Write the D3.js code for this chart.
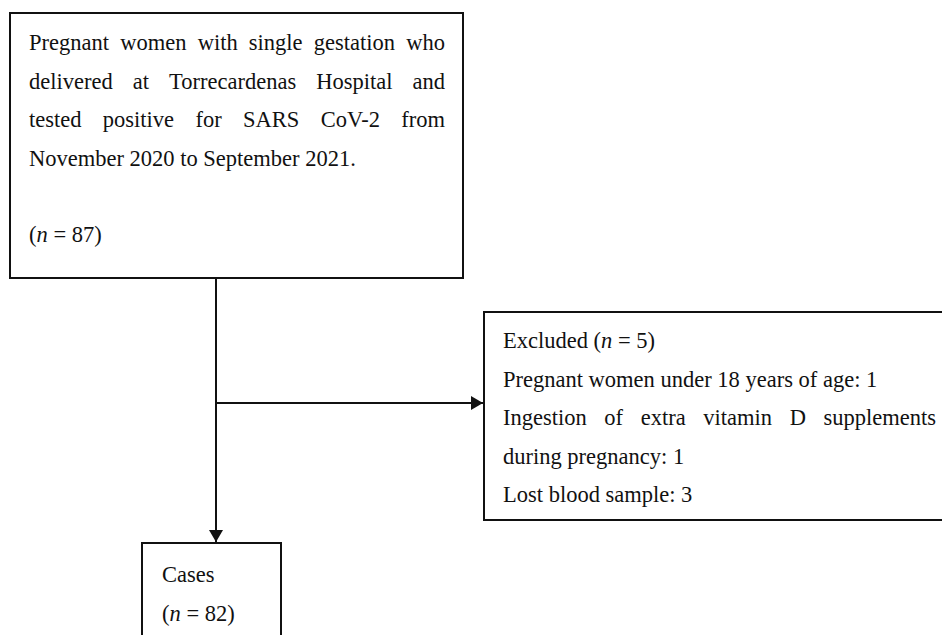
<!DOCTYPE html>
<html lang="en">
<head>
<meta charset="utf-8">
<title>Flow diagram</title>
<script src="https://cdn.jsdelivr.net/npm/d3@7"></script>
<style>
  body { margin: 0; background: #fff; }
  text { font-family: "Liberation Serif", "DejaVu Serif", serif; fill: #111; }
</style>
</head>
<body>
<script>
// box texts; *n* marks italic, a trailing "|" means the line is justified
var mainLines = [
  "Pregnant women with single gestation who|",
  "delivered at Torrecardenas Hospital and|",
  "tested positive for SARS CoV-2 from|",
  "November 2020 to September 2021."
];
var mainCount = "(*n* = 87)";
var excludedLines = [
  "Excluded (*n* = 5)",
  "Pregnant women under 18 years of age: 1",
  "Ingestion of extra vitamin D supplements|",
  "during pregnancy: 1",
  "Lost blood sample: 3"
];
var casesLines = ["Cases", "(*n* = 82)"];

var W = 942, H = 635;
var fontSize = 22.5, lineGap = 38.5;

var svg = d3.select("body").append("svg").attr("width", W).attr("height", H);

var defs = svg.append("defs");
defs.append("marker")
  .attr("id", "arrow")
  .attr("viewBox", "0 0 12 14")
  .attr("refX", 12).attr("refY", 7)
  .attr("markerWidth", 12).attr("markerHeight", 14)
  .attr("markerUnits", "userSpaceOnUse")
  .attr("orient", "auto")
  .append("path").attr("d", "M0,0L12,7L0,14Z").attr("fill", "#111");

function box(x, y, w, h) {
  svg.append("rect").attr("x", x).attr("y", y).attr("width", w).attr("height", h)
    .attr("fill", "none").attr("stroke", "#111").attr("stroke-width", 2);
}

// split "(*n* = 87)" into pieces with italic flags
function pieces(str) {
  return str.split("*").map(function(s, i) { return { t: s, it: i % 2 == 1 }; })
    .filter(function(p) { return p.t.length; });
}

function writeLine(x, y, str, width) {
  var justify = str.endsWith("|");
  if (justify) str = str.slice(0, -1);
  var g = svg.append("g");
  if (!justify) {
    var t = g.append("text").attr("x", x).attr("y", y).attr("font-size", fontSize);
    pieces(str).forEach(function(p) {
      t.append("tspan").attr("font-style", p.it ? "italic" : null).text(p.t);
    });
    return;
  }
  var words = str.split(" ");
  var nodes = words.map(function(w) {
    return g.append("text").attr("y", y).attr("font-size", fontSize).text(w);
  });
  var lens = nodes.map(function(n) { return n.node().getComputedTextLength(); });
  var gap = (width - d3.sum(lens)) / (words.length - 1);
  var cx = x;
  nodes.forEach(function(n, i) { n.attr("x", cx); cx += lens[i] + gap; });
}

function writeBlock(x, y0, lines, width) {
  lines.forEach(function(l, i) { writeLine(x, y0 + i * lineGap, l, width); });
}

// main box
box(10, 13, 453, 265);
writeBlock(29, 50, mainLines, 416);
writeLine(29, 242, mainCount, 416);

// excluded box (runs off the right side)
box(484, 312, 470, 208);
writeBlock(503, 348, excludedLines, 433);

// cases box (runs off the bottom)
box(142, 543, 139, 120);
writeBlock(162, 582, casesLines, 110);

// connectors
svg.append("line").attr("x1", 216).attr("y1", 278).attr("x2", 216).attr("y2", 542)
  .attr("stroke", "#111").attr("stroke-width", 2).attr("marker-end", "url(#arrow)");
svg.append("line").attr("x1", 216).attr("y1", 403).attr("x2", 483).attr("y2", 403)
  .attr("stroke", "#111").attr("stroke-width", 2).attr("marker-end", "url(#arrow)");
</script>
</body>
</html>
